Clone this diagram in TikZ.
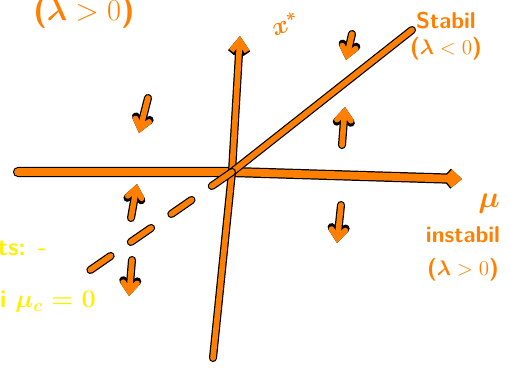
\documentclass[tikz,border=0pt]{standalone}
\usepackage{amsmath,amssymb}
\usepackage{tikz}
\usepackage{xcolor}
\usetikzlibrary{arrows.meta}

\definecolor{sketchorange}{RGB}{255,128,0}
\definecolor{sketchyellow}{RGB}{255,240,0}

\begin{document}
\begin{tikzpicture}[
    x=0.02cm, y=-0.02cm,
    axisline/.style={
        draw=sketchorange,
        line width=4.4pt,
        line cap=round,
        preaction={draw=black, line width=5.8pt, line cap=round}
    },
    branch/.style={
        draw=sketchorange,
        line width=3.2pt,
        line cap=round,
        preaction={draw=black, line width=4.6pt, line cap=round}
    },
    dashbranch/.style={
        draw=sketchorange,
        line width=3.2pt,
        line cap=round,
        dash pattern=on 14pt off 14pt,
        preaction={draw=black, line width=4.6pt, line cap=round, dash pattern=on 14pt off 14pt}
    },
    flowarrow/.style={
        branch,
        -{Straight Barb[length=5pt,width=8pt,line cap=round]}
    },
    sketchtext/.style={
        text=sketchorange,
        font=\sffamily\bfseries\fontsize{13}{15}\selectfont,
        inner sep=1pt,
        align=center
    },
    notetext/.style={
        text=sketchyellow,
        font=\sffamily\bfseries\fontsize{14}{16}\selectfont,
        inner sep=1pt
    }
]
\useasboundingbox (0,0) rectangle (511,369);

% axes
\coordinate (origin) at (232,172);
\coordinate (muleft) at (18,172);
\coordinate (muright) at (462,179);
\coordinate (xbottom) at (213,358);
\coordinate (xtop) at (240,36);
\draw [axisline, -{Straight Barb[length=4pt,width=7pt]}] (muleft) -- (origin) -- (muright);
\draw [branch, -{Straight Barb[length=6pt,width=9pt]}] (xbottom) -- (origin) -- (xtop);

% stable and unstable branch
\coordinate (stabend) at (412,30);
\coordinate (unstabend) at (86,273);
\draw [branch] (origin) -- (stabend);
\draw [dashbranch] (origin) -- (unstabend);

% flow arrows
\draw [flowarrow] (148,98) -- (139,133);
\draw [flowarrow] (131,218) -- (137,184);
\draw [flowarrow] (132,260) -- (129,296);
\draw [flowarrow] (342,145) -- (345,107);
\draw [flowarrow] (352,34) -- (346,60);
\draw [flowarrow] (341,205) -- (337,243);

% labels
\node (lambdatop) [sketchtext, font=\sffamily\bfseries\fontsize{18}{20}\selectfont] at (84,13) {($\boldsymbol{\lambda} > 0$)};
\node (xstar) [sketchtext, font=\sffamily\bfseries\fontsize{14}{16}\selectfont, rotate=20] at (285,24) {$\boldsymbol{x^{*}}$};
\node (stablelabel) [sketchtext] at (446,36) {Stabil\\($\boldsymbol{\lambda} < 0$)};
\node (mulabel) [sketchtext, font=\sffamily\bfseries\fontsize{16}{18}\selectfont] at (489,204) {$\boldsymbol{\mu}$};
\node (unstablelabel) [sketchtext] at (463,254) {instabil\\[4pt]($\boldsymbol{\lambda} > 0$)};

% note on the left
\node (noteone) [notetext, anchor=west] at (-4,248) {ts: -};
\node (notetwo) [notetext, anchor=west] at (-2,302) {i $\boldsymbol{\mu_c = 0}$};
\end{tikzpicture}
\end{document}
